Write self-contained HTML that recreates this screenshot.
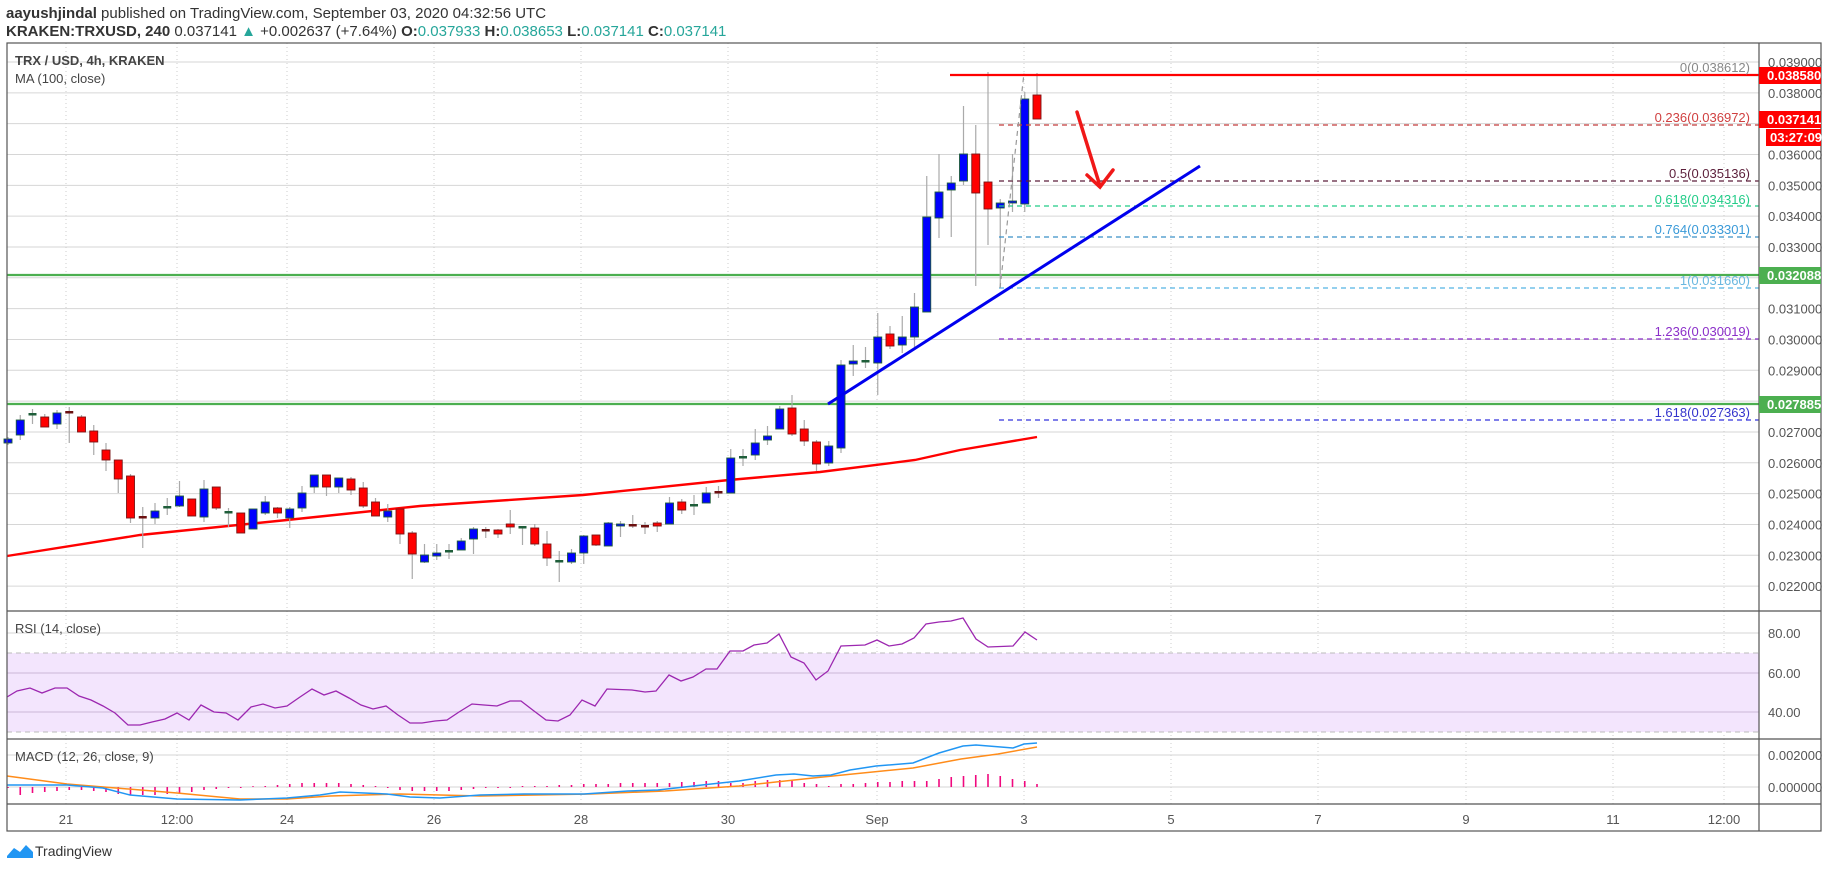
<!DOCTYPE html>
<html><head><meta charset="utf-8"><style>
body{margin:0;background:#fff;width:1828px;height:868px;overflow:hidden;font-family:"Liberation Sans",sans-serif}
svg text{font-family:"Liberation Sans",sans-serif}
</style></head><body>
<svg id="s" width="1828" height="868" xmlns="http://www.w3.org/2000/svg">
<rect width="1828" height="868" fill="#fff"/>
<text x="6" y="18" font-size="15" fill="#333"><tspan font-weight="bold">aayushjindal</tspan> published on TradingView.com, September 03, 2020 04:32:56 UTC</text>
<text x="6" y="36" font-size="15" fill="#333"><tspan font-weight="bold">KRAKEN:TRXUSD, 240</tspan> 0.037141 <tspan fill="#26a69a">▲</tspan> +0.002637 (+7.64%) <tspan font-weight="bold">O:</tspan><tspan fill="#26a69a">0.037933</tspan> <tspan font-weight="bold">H:</tspan><tspan fill="#26a69a">0.038653</tspan> <tspan font-weight="bold">L:</tspan><tspan fill="#26a69a">0.037141</tspan> <tspan font-weight="bold">C:</tspan><tspan fill="#26a69a">0.037141</tspan></text>
<g id="grid"></g>
<rect x="7" y="653" width="1752" height="79" fill="#f3e5fd"/>
<line x1="7" y1="653" x2="1759" y2="653" stroke="#bbb" stroke-dasharray="5,4"/>
<line x1="7" y1="732" x2="1759" y2="732" stroke="#bbb" stroke-dasharray="5,4"/>
<line x1="7" y1="673" x2="1759" y2="673" stroke="#cbb8d8"/>
<line x1="7" y1="712" x2="1759" y2="712" stroke="#cbb8d8"/>
<line x1="7" y1="633" x2="1759" y2="633" stroke="#d6d6d6"/>
<line x1="7" y1="755" x2="1759" y2="755" stroke="#d6d6d6"/>
<line x1="7" y1="787" x2="1759" y2="787" stroke="#d6d6d6"/>
<!-- green horizontal lines -->
<line x1="7" y1="275" x2="1759" y2="275" stroke="#4caf50" stroke-width="2.2"/>
<line x1="7" y1="404" x2="1759" y2="404" stroke="#4caf50" stroke-width="2.2"/>
<!-- MA -->
<polyline fill="none" stroke="#f00" stroke-width="2.4" points="7,556 140,535 287,520 420,506 583,495 729,480 820,472 915,460 960,450 1037,437"/>
<g id="candles"></g>
<!-- fib lines -->
<g stroke-width="1.2" stroke-dasharray="5,4">
<line x1="999" y1="125" x2="1759" y2="125" stroke="#c43c3c"/>
<line x1="999" y1="181" x2="1759" y2="181" stroke="#5c1f3a"/>
<line x1="999" y1="206" x2="1759" y2="206" stroke="#22cc88"/>
<line x1="999" y1="237" x2="1759" y2="237" stroke="#3a90c8"/>
<line x1="999" y1="288" x2="1759" y2="288" stroke="#55b3e3"/>
<line x1="999" y1="339" x2="1759" y2="339" stroke="#8b2fc9"/>
<line x1="999" y1="420" x2="1759" y2="420" stroke="#3333dd"/>
</g>
<line x1="1000" y1="288" x2="1024" y2="73" stroke="#999" stroke-width="1.2" stroke-dasharray="5,4"/>
<line x1="950" y1="75" x2="1759" y2="75" stroke="#f00" stroke-width="2.2"/>
<line x1="828" y1="404" x2="1200" y2="166" stroke="#0000ee" stroke-width="3"/>
<g stroke="#f01818" stroke-width="3.5" fill="none" stroke-linecap="round"><line x1="1077" y1="112" x2="1100" y2="186"/><polyline points="1087,175 1100,187 1113,170"/></g>
<g font-size="13" text-anchor="end">
<text x="1750" y="72" fill="#888">0(0.038612)</text>
<text x="1750" y="122" fill="#d04040">0.236(0.036972)</text>
<text x="1750" y="178" fill="#5c1f3a">0.5(0.035136)</text>
<text x="1750" y="204" fill="#22cc88">0.618(0.034316)</text>
<text x="1750" y="234" fill="#3a9ad8">0.764(0.033301)</text>
<text x="1750" y="285" fill="#6ab8e0">1(0.031660)</text>
<text x="1750" y="336" fill="#8b2fc9">1.236(0.030019)</text>
<text x="1750" y="417" fill="#3333cc">1.618(0.027363)</text>
</g>
<text x="15" y="65" font-size="13" font-weight="bold" fill="#444">TRX / USD, 4h, KRAKEN</text>
<text x="15" y="83" font-size="13" fill="#444">MA (100, close)</text>
<text x="15" y="633" font-size="13" fill="#444">RSI (14, close)</text>
<text x="15" y="761" font-size="13" fill="#444">MACD (12, 26, close, 9)</text>
<polyline fill="none" stroke="#9c27b0" stroke-width="1.3" points="7,697 17,691 30,688 42,693 55,688 67,688 79,696 91,700 103,706 115,713 128,725 140,725 152,722 165,719 177,713 189,720 201,705 214,712 226,713 238,720 251,707 263,704 275,708 287,706 300,697 312,689 324,695 336,691 349,698 361,705 373,709 386,706 398,715 410,723 422,723 435,721 447,720 459,712 472,704 484,705 497,706 510,701 521,701 534,711 546,720 558,721 570,715 582,700 595,706 607,689 632,690 645,692 656,691 669,675 681,681 693,677 706,669 717,669 730,651 743,651 754,645 767,643 779,634 791,657 804,663 816,680 828,671 841,646 865,645 877,640 889,646 902,644 914,638 926,624 939,622 951,621 963,618 976,639 988,647 1013,646 1025,632 1037,640"/>
<g id="hist"></g>
<polyline fill="none" stroke="#ff8c1a" stroke-width="1.5" points="7,776 67,784 177,793 240,799 287,799 330,796 400,794 480,796 591,794 665,791 739,786 813,778 913,768 961,759 998,754 1037,747"/>
<polyline fill="none" stroke="#2196f3" stroke-width="1.5" points="7,785 67,785 103,788 130,795 177,799 240,800 287,798 320,795 340,792 387,794 410,797 440,798 480,795 524,794 584,794 628,791 658,790 702,785 739,781 776,775 794,774 813,776 831,775 850,770 876,766 913,763 939,753 963,746 976,745 1013,748 1024,744 1037,743"/>
<!-- frame -->
<g stroke="#555" fill="none" stroke-width="1.2">
<rect x="7" y="43" width="1814" height="788"/>
<line x1="1759" y1="43" x2="1759" y2="831"/>
<line x1="7" y1="611" x2="1821" y2="611"/>
<line x1="7" y1="739" x2="1821" y2="739"/>
<line x1="7" y1="804" x2="1821" y2="804"/>
</g>
<g id="axis" font-size="13" fill="#555"></g>
<g font-size="13" fill="#555">
<text x="1768" y="638">80.00</text><text x="1768" y="678">60.00</text><text x="1768" y="717">40.00</text>
<text x="1768" y="760">0.002000</text><text x="1768" y="792">0.000000</text>
</g>
<rect x="1759" y="67" width="62" height="17" fill="#f00"/><text x="1767" y="80" font-size="13" font-weight="bold" fill="#fff">0.038580</text>
<rect x="1759" y="111" width="62" height="17" fill="#f00"/><text x="1767" y="124" font-size="13" font-weight="bold" fill="#fff">0.037141</text>
<rect x="1766" y="129" width="55" height="17" fill="#f00"/><text x="1770" y="142" font-size="13" font-weight="bold" fill="#fff">03:27:09</text>
<rect x="1759" y="267" width="62" height="17" fill="#4caf50"/><text x="1767" y="280" font-size="13" font-weight="bold" fill="#fff">0.032088</text>
<rect x="1759" y="396" width="62" height="17" fill="#4caf50"/><text x="1767" y="409" font-size="13" font-weight="bold" fill="#fff">0.027885</text>
<g font-size="13" fill="#555" text-anchor="middle">
<text x="66" y="824">21</text><text x="177" y="824">12:00</text><text x="287" y="824">24</text><text x="434" y="824">26</text><text x="581" y="824">28</text><text x="728" y="824">30</text><text x="877" y="824">Sep</text><text x="1024" y="824">3</text><text x="1171" y="824">5</text><text x="1318" y="824">7</text><text x="1466" y="824">9</text><text x="1613" y="824">11</text><text x="1724" y="824">12:00</text>
</g>
<g fill="#2196f3"><path d="M7,856 L14,848 L20,852 L26,845 L33,852 L33,858 L7,858Z"/></g>
<text x="35" y="856" font-size="14" fill="#333">TradingView</text>
</svg>
<script>
var NS="http://www.w3.org/2000/svg";
function el(p,t,a){var e=document.createElementNS(NS,t);for(var k in a)e.setAttribute(k,a[k]);p.appendChild(e);return e;}
var g=document.getElementById('grid');
for(var i=0;i<=17;i++){var y=62+i*30.83;el(g,'line',{x1:7,y1:y,x2:1759,y2:y,stroke:'#d6d6d6'});}
[66,177,287,434,581,728,877,1024,1171,1318,1466,1613,1724].forEach(function(x){el(g,'line',{x1:x,y1:43,x2:x,y2:804,stroke:'#ccc','stroke-dasharray':'1,3'});});
var ax=document.getElementById('axis');
for(var i=0;i<=17;i++){var p=39-i;if(p==37||p==32||p==28)continue;var t=el(ax,'text',{x:1768,y:62+i*30.83+5});t.textContent='0.0'+p+'000';}
var C=[[439,443,437,445,'b'],[420,435,415,440,'b'],[414,414,409,424,'g'],[417,427,414,427,'r'],[413,424,410,429,'b'],[412,412,407,443,'d'],[417,432,415,432,'r'],[431,442,425,455,'r'],[450,460,443,471,'r'],[460,479,460,493,'r'],[476,518,474,523,'r'],[517,517,507,548,'d'],[511,518,503,524,'b'],[507,507,498,515,'g'],[496,506,481,507,'b'],[499,516,499,516,'r'],[489,517,480,522,'b'],[487,508,487,510,'r'],[512,512,508,527,'g'],[513,533,513,533,'r'],[509,529,509,529,'b'],[502,513,496,515,'b'],[508,513,507,518,'r'],[509,518,507,528,'b'],[493,508,486,512,'b'],[475,487,475,493,'b'],[475,487,475,496,'r'],[478,487,478,493,'b'],[479,490,477,495,'r'],[488,506,482,508,'r'],[502,516,498,516,'r'],[511,517,504,522,'b'],[509,534,509,544,'r'],[533,554,531,579,'r'],[555,562,544,563,'b'],[553,556,544,560,'b'],[551,551,544,559,'g'],[541,550,538,550,'b'],[529,539,527,554,'b'],[530,530,527,538,'d'],[530,534,529,538,'r'],[524,527,510,534,'r'],[527,527,527,545,'g'],[528,544,524,546,'r'],[544,558,531,566,'r'],[561,561,551,582,'g'],[553,562,549,564,'b'],[536,553,535,564,'b'],[535,545,535,546,'r'],[523,546,522,546,'b'],[524,526,521,537,'b'],[525,525,515,528,'d'],[526,526,522,534,'d'],[523,526,521,532,'r'],[503,524,497,524,'b'],[502,510,499,514,'r'],[505,505,495,515,'g'],[493,503,487,503,'b'],[492,492,486,498,'d'],[458,493,449,493,'b'],[457,457,449,466,'g'],[443,455,429,460,'b'],[436,440,426,445,'b'],[409,429,406,429,'b'],[408,434,395,436,'r'],[429,441,420,446,'r'],[442,464,440,471,'r'],[446,463,441,466,'b'],[365,448,360,453,'b'],[361,364,345,376,'b'],[361,361,347,368,'g'],[337,363,313,395,'b'],[334,346,326,349,'r'],[337,345,316,353,'b'],[307,337,293,347,'b'],[217,312,176,312,'b'],[192,218,154,238,'b'],[183,190,176,237,'b'],[154,181,106,185,'b'],[154,193,125,286,'r'],[182,209,72,245,'r'],[203,208,199,288,'b'],[201,202,154,212,'b'],[99,204,92,212,'b'],[95,119,73,119,'r']];
var cg=document.getElementById('candles');
C.forEach(function(c,i){var x=8+i*12.25;
el(cg,'line',{x1:x,y1:c[2],x2:x,y2:c[3],stroke:'#aaa','stroke-width':1.2});
var col=c[4];
if(col=='g'||col=='d'){el(cg,'rect',{x:x-4,y:c[0]-1,width:8,height:2.5,fill:col=='g'?'#1f5e3a':'#6b1010'});}
else{el(cg,'rect',{x:x-4,y:c[0],width:8,height:Math.max(c[1]-c[0],2),fill:col=='b'?'#0000ff':'#ff0000',stroke:col=='b'?'#1f5e3a':'#7a1515','stroke-width':0.9});}
});
var H=[-1,-8,-6,-5,-4,-3,-3,-4,-5,-7,-8,-8,-8,-7,-6,-5,-3,-2,-1,-1,0,1,2,3,4,4,4,4,3,2,1,-1,-3,-4,-4,-4,-4,-3,-2,-1,-1,-1,1,1,1,2,2,3,3,3,4,4,4,4,4,5,5,6,6,4,4,6,7,7,6,4,3,1,3,3,4,5,5,6,6,6,8,10,11,12,13,11,8,6,3,4,3];
var hg=document.getElementById('hist');
for(var i=0;i<85;i++){var x=8+i*12.25,h=H[i]||0;if(h==0)h=0.8;el(hg,'line',{x1:x,y1:787,x2:x,y2:787-h,stroke:'#f0087f','stroke-width':1.6});}
</script>
</body></html>
